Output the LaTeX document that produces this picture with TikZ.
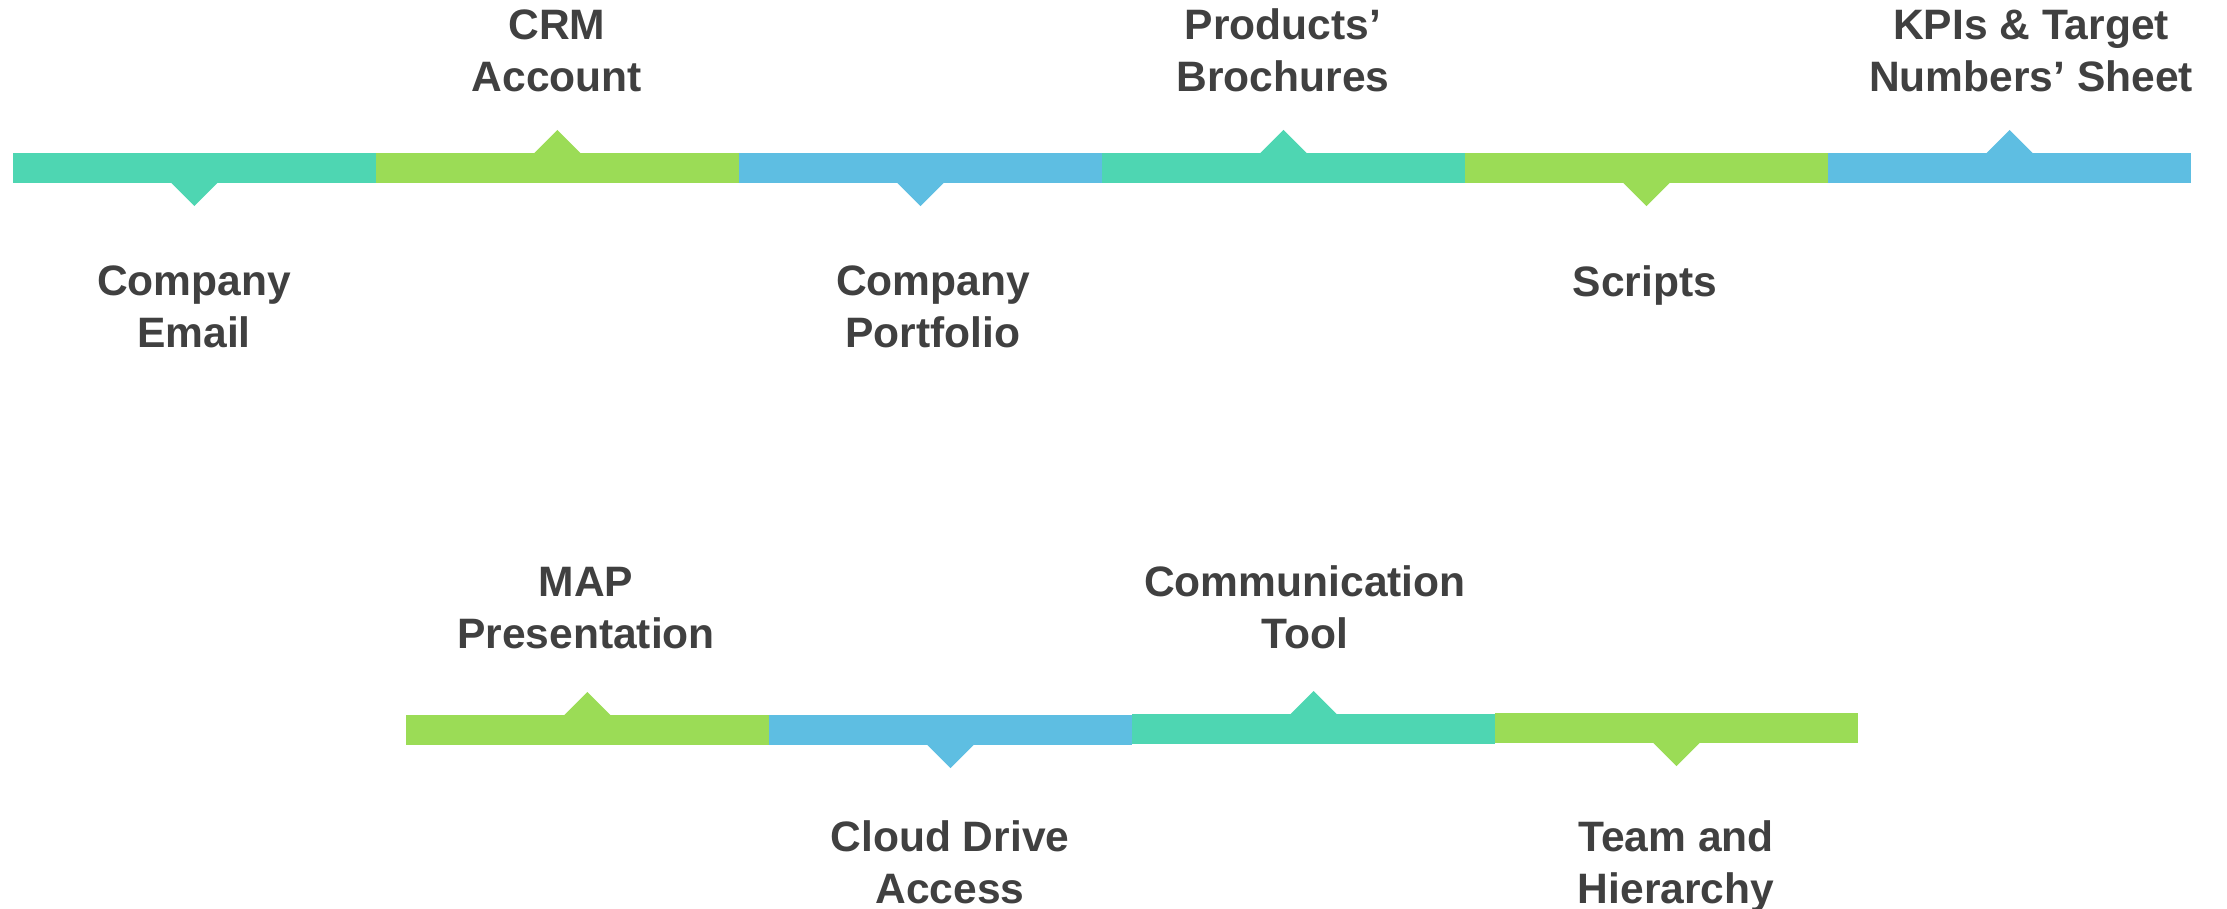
\documentclass[tikz,border=0pt]{standalone}
\usepackage{fontspec}
\setmainfont{Liberation Sans}
\usepackage{tikz}
\definecolor{lteal}{RGB}{78, 214, 178}
\definecolor{lgreen}{RGB}{155, 220, 86}
\definecolor{lblue}{RGB}{94, 190, 226}
\definecolor{dgray}{RGB}{64, 64, 64}
\tikzset{
	bar/.style = {rectangle, minimum width = 3.63cm, minimum height = 0.3cm, inner sep = 0pt, outer sep = 0pt},
	lbl/.style = {align = center, inner sep = 0pt, text = dgray, font = \fontsize{12.1}{14.8}\selectfont\bfseries}
}

\begin{document}
\begin{tikzpicture}[x = 0.01cm, y = -0.01cm]
			\useasboundingbox (0,0) rectangle (2227,909);
			% top row
			\node (t1) at (194.5,168) [bar, fill = lteal] {};
			\node (t2) at (557.5,168) [bar, fill = lgreen] {};
			\node (t3) at (920.5,168) [bar, fill = lblue] {};
			\node (t4) at (1283.5,168) [bar, fill = lteal] {};
			\node (t5) at (1646.5,168) [bar, fill = lgreen] {};
			\node (t6) at (2009.5,168) [bar, fill = lblue] {};
			\fill[lteal] ([xshift = -0.24cm, yshift = 0.01cm]t1.south) -- ++(24,24) -- ++(24,-24) -- cycle;
			\fill[lgreen] ([xshift = -0.24cm, yshift = -0.01cm]t2.north) -- ++(24,-24) -- ++(24,24) -- cycle;
			\fill[lblue] ([xshift = -0.24cm, yshift = 0.01cm]t3.south) -- ++(24,24) -- ++(24,-24) -- cycle;
			\fill[lteal] ([xshift = -0.24cm, yshift = -0.01cm]t4.north) -- ++(24,-24) -- ++(24,24) -- cycle;
			\fill[lgreen] ([xshift = -0.24cm, yshift = 0.01cm]t5.south) -- ++(24,24) -- ++(24,-24) -- cycle;
			\fill[lblue] ([xshift = -0.24cm, yshift = -0.01cm]t6.north) -- ++(24,-24) -- ++(24,24) -- cycle;
			\node (email) at (194,265) [lbl, anchor = north] {Company\\Email};
			\node (crm) at (557,93) [lbl, anchor = south] {CRM\\Account};
			\node (portfolio) at (933,265) [lbl, anchor = north] {Company\\Portfolio};
			\node (brochures) at (1283,93) [lbl, anchor = south] {Products’\\Brochures};
			\node (scripts) at (1645,265) [lbl, anchor = north] {Scripts};
			\node (kpis) at (2031,93) [lbl, anchor = south] {KPIs \& Target\\Numbers’ Sheet};
			% bottom row
			\node (u1) at (587.5,730) [bar, fill = lgreen] {};
			\node (u2) at (950.5,730) [bar, fill = lblue] {};
			\node (u3) at (1313.5,729) [bar, fill = lteal] {};
			\node (u4) at (1676.5,728) [bar, fill = lgreen] {};
			\fill[lgreen] ([xshift = -0.24cm, yshift = -0.01cm]u1.north) -- ++(24,-24) -- ++(24,24) -- cycle;
			\fill[lblue] ([xshift = -0.24cm, yshift = 0.01cm]u2.south) -- ++(24,24) -- ++(24,-24) -- cycle;
			\fill[lteal] ([xshift = -0.24cm, yshift = -0.01cm]u3.north) -- ++(24,-24) -- ++(24,24) -- cycle;
			\fill[lgreen] ([xshift = -0.24cm, yshift = 0.01cm]u4.south) -- ++(24,24) -- ++(24,-24) -- cycle;
			\node (map) at (586,650) [lbl, anchor = south] {MAP\\Presentation};
			\node (cloud) at (950,820) [lbl, anchor = north] {Cloud Drive\\Access};
			\node (comm) at (1305,650) [lbl, anchor = south] {Communication\\Tool};
			\node (team) at (1676,820) [lbl, anchor = north] {Team and\\Hierarchy};
\end{tikzpicture}
\end{document}
